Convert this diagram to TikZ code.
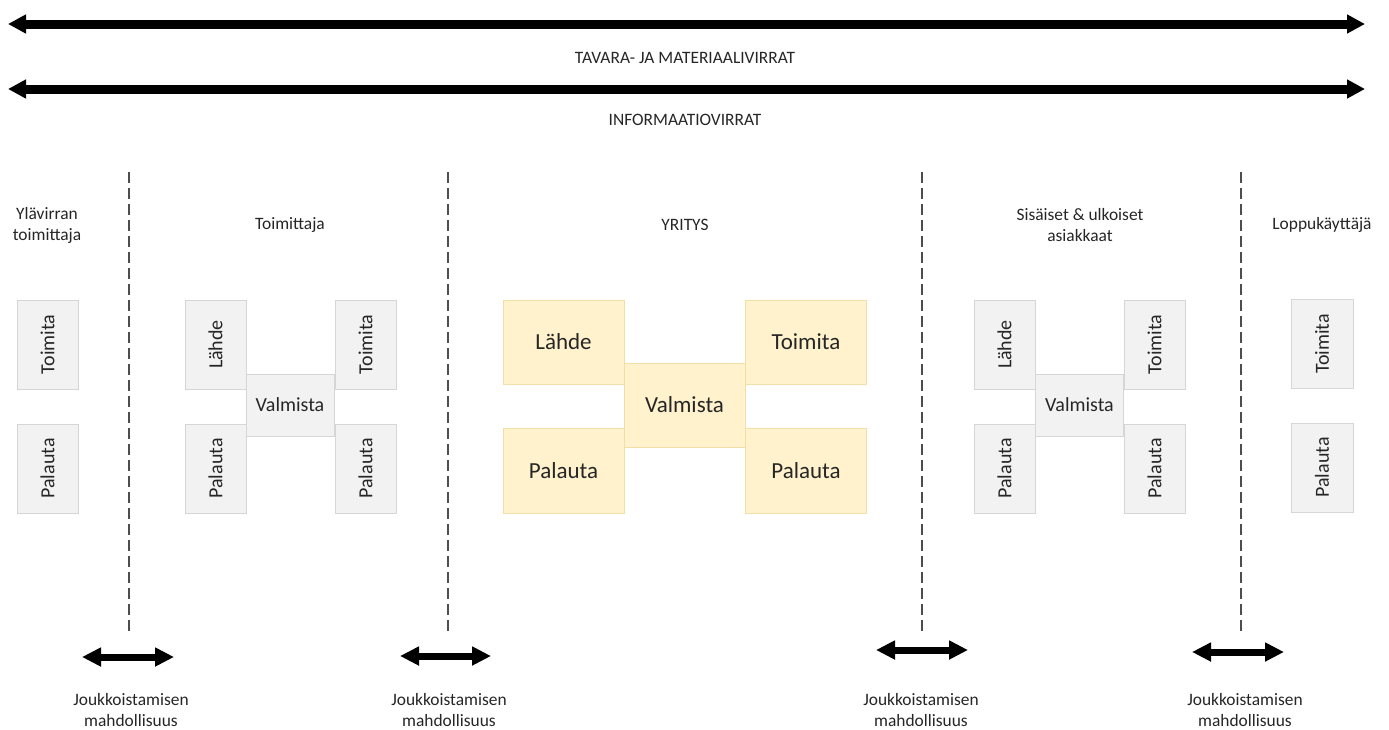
\documentclass[tikz,border=0pt]{standalone}
\usepackage{fontspec}
\setmainfont{Carlito}
\usetikzlibrary{arrows.meta}
\definecolor{txt}{HTML}{262626}
\definecolor{grayfill}{HTML}{F2F2F2}
\definecolor{grayline}{HTML}{D6D6D6}
\definecolor{yelfill}{HTML}{FFF2CC}
\definecolor{yelline}{HTML}{F2DFA7}
\definecolor{dashcol}{HTML}{4D4D4D}
\tikzset{
  flowarrow/.style={line width=9pt,{Triangle[length=18pt,width=18pt]}-{Triangle[length=18pt,width=18pt]}},
  crowdarrow/.style={line width=7pt,{Triangle[length=19pt,width=18pt]}-{Triangle[length=19pt,width=18pt]}},
  divider/.style={dashcol,line width=2pt,dash pattern=on 11pt off 5pt},
  caption/.style={text=txt,font=\fontsize{17.4}{21}\selectfont,align=center,inner sep=0pt},
  gbox/.style={draw=grayline,fill=grayfill,line width=1pt,text=txt,inner sep=0pt,
    font=\fontsize{20}{24}\selectfont,minimum width=61pt,minimum height=89pt},
  gmid/.style={gbox,minimum width=88pt,minimum height=62pt},
  ybox/.style={draw=yelline,fill=yelfill,line width=1pt,text=txt,inner sep=0pt,
    font=\fontsize{23}{27}\selectfont,minimum width=121pt,minimum height=84pt},
}
\newcommand{\vlabel}[1]{\rotatebox{90}{#1}}
\begin{document}
\begin{tikzpicture}[x=1pt,y=-1pt]
\useasboundingbox[fill=white] (0,0) rectangle (1389,729);

% material and information flows
\coordinate (m1) at (8,24);   \coordinate (m2) at (1365,24);
\coordinate (i1) at (8,89);   \coordinate (i2) at (1365,89);
\draw[flowarrow] (m1) -- (m2);
\draw[flowarrow] (i1) -- (i2);
\node[caption] (mtext) at (685,58) {TAVARA- JA MATERIAALIVIRRAT};
\node[caption] (itext) at (685,120) {INFORMAATIOVIRRAT};

% boundaries between the chain members
\foreach \x/\n in {129/d1,448/d2,922/d3,1241/d4}{
  \coordinate (\n t) at (\x,172);
  \coordinate (\n b) at (\x,631);
  \draw[divider] (\n t) -- (\n b);
}

% chain member headings
\node[caption] (h1) at (47,225) {Ylävirran\\toimittaja};
\node[caption] (h2) at (290,225) {Toimittaja};
\node[caption] (h3) at (685,225) {YRITYS};
\node[caption] (h4) at (1080,225) {Sisäiset \& ulkoiset\\asiakkaat};
\node[caption] (h5) at (1322,225) {Loppukäyttäjä};

% upstream supplier
\node[gbox] (t1) at (47.5,344.5) {\vlabel{Toimita}};
\node[gbox] (p1) at (47.5,468.5) {\vlabel{Palauta}};

% supplier
\node[gbox] (l2) at (215.5,344.5) {\vlabel{Lähde}};
\node[gbox] (t2) at (365.5,344.5) {\vlabel{Toimita}};
\node[gbox] (p2a) at (215.5,468.5) {\vlabel{Palauta}};
\node[gbox] (p2b) at (365.5,468.5) {\vlabel{Palauta}};
\node[gmid] (v2) at (290,405) {Valmista};

% company
\node[ybox] (l3) at (563.5,342) {Lähde};
\node[ybox] (t3) at (806,342) {Toimita};
\node[ybox,minimum height=85pt] (p3a) at (563.5,470.5) {Palauta};
\node[ybox,minimum height=85pt] (p3b) at (806,470.5) {Palauta};
\node[ybox] (v3) at (684.5,405) {Valmista};

% internal and external customers
\node[gbox] (l4) at (1004.5,344.5) {\vlabel{Lähde}};
\node[gbox] (t4) at (1154.5,344.5) {\vlabel{Toimita}};
\node[gbox] (p4a) at (1004.5,468.5) {\vlabel{Palauta}};
\node[gbox] (p4b) at (1154.5,468.5) {\vlabel{Palauta}};
\node[gmid] (v4) at (1079.5,405) {Valmista};

% end user
\node[gbox,minimum width=62pt] (t5) at (1322,344) {\vlabel{Toimita}};
\node[gbox,minimum width=62pt] (p5) at (1322,467.5) {\vlabel{Palauta}};

% crowdsourcing opportunities
\foreach \a/\b/\y/\lx/\n in {82/174/657/131/c1,400/491/656/449/c2,876/968/650/921/c3,1192/1284/652/1245/c4}{
  \coordinate (\n l) at (\a,\y);
  \coordinate (\n r) at (\b,\y);
  \draw[crowdarrow] (\n l) -- (\n r);
  \node[caption] (\n txt) at (\lx,710) {Joukkoistamisen\\mahdollisuus};
}
\end{tikzpicture}
\end{document}
